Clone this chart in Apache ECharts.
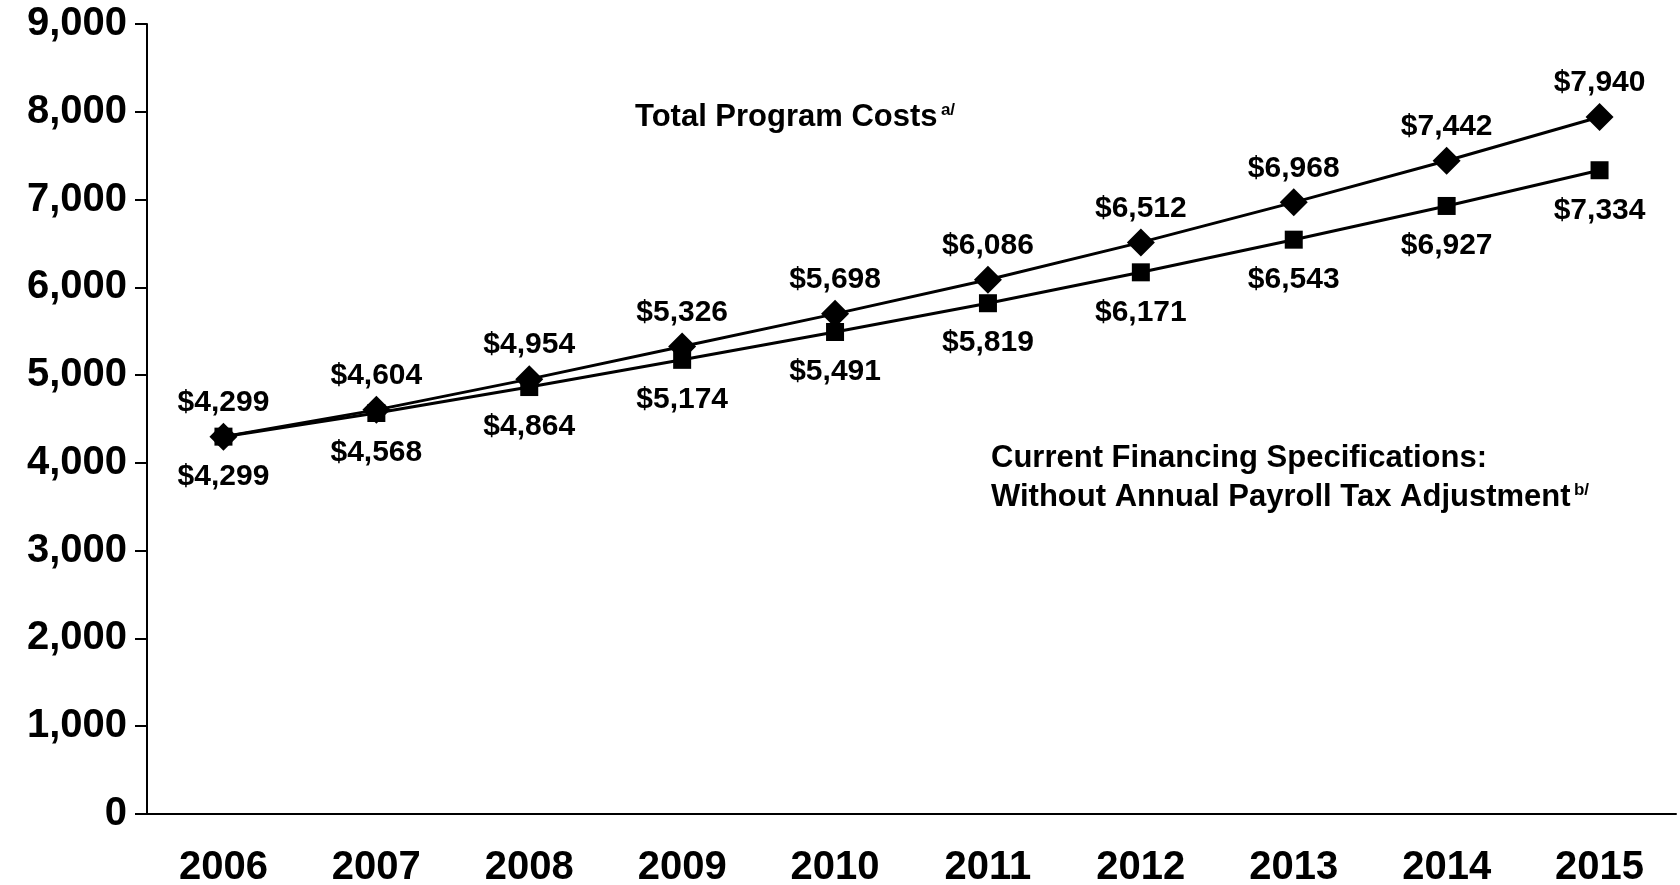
<!DOCTYPE html>
<html lang="en">
<head>
    <meta charset="UTF-8">
    <title>Program Costs</title>
    <script src="https://cdn.jsdelivr.net/npm/echarts@6/dist/echarts.min.js"></script>
    <style>
      html, body { margin: 0; padding: 0; background: #fff; }
      #main { width: 1680px; height: 885px; }
    </style>
</head>
<body>
<div id="main"></div>
<script>
// 数据
var years = ['2006', '2007', '2008', '2009', '2010', '2011', '2012', '2013', '2014', '2015'];
var totalCosts = [4299, 4604, 4954, 5326, 5698, 6086, 6512, 6968, 7442, 7940];
var currentFinancing = [4299, 4568, 4864, 5174, 5491, 5819, 6171, 6543, 6927, 7334];
var yTicks = [0, 1000, 2000, 3000, 4000, 5000, 6000, 7000, 8000, 9000];

var font = '"Liberation Sans", Arial, sans-serif';

function money(v) {
  return '$' + v.toLocaleString('en-US');
}

var myChart = echarts.init(document.getElementById('main'));

var option = {
  backgroundColor: '#fff',
  animation: false,
  grid: { left: 147, right: 4, top: 24, bottom: 71, outerBoundsMode: 'none', containLabel: false },
  xAxis: {
    type: 'category',
    data: years,
    boundaryGap: true,
    axisLine: { lineStyle: { color: '#000', width: 2 } },
    axisTick: { length: 12, lineStyle: { color: '#000', width: 2 } },
    axisLabel: { color: '#000', fontFamily: font, fontWeight: 'bold', fontSize: 40, margin: 34 }
  },
  yAxis: {
    type: 'value',
    min: yTicks[0],
    max: yTicks[yTicks.length - 1],
    interval: 1000,
    axisLine: { show: true, lineStyle: { color: '#000', width: 2 } },
    axisTick: { show: true, length: 12, lineStyle: { color: '#000', width: 2 } },
    splitLine: { show: false },
    axisLabel: {
      color: '#000', fontFamily: font, fontWeight: 'bold', fontSize: 40, margin: 20,
      formatter: function (v) { return v.toLocaleString('en-US'); }
    }
  },
  series: [
    {
      name: 'Current Financing',
      type: 'line',
      data: currentFinancing,
      symbol: 'rect',
      symbolSize: 18,
      lineStyle: { color: '#000', width: 3 },
      itemStyle: { color: '#000' },
      label: {
        show: true, position: 'bottom', distance: 16,
        color: '#000', fontFamily: font, fontWeight: 'bold', fontSize: 30,
        formatter: function (p) { return money(p.value); }
      }
    },
    {
      name: 'Total Program Costs',
      type: 'line',
      data: totalCosts,
      symbol: 'diamond',
      symbolSize: 28,
      lineStyle: { color: '#000', width: 3 },
      itemStyle: { color: '#000' },
      label: {
        show: true, position: 'top', distance: 5,
        color: '#000', fontFamily: font, fontWeight: 'bold', fontSize: 30,
        formatter: function (p) { return money(p.value); }
      }
    }
  ],
  graphic: [
    {
      type: 'text', left: 635, top: 102,
      style: {
        text: '{m|Total Program Costs} {s|a/}',
        rich: {
          m: { fontFamily: font, fontWeight: 'bold', fontSize: 31, fill: '#000' },
          s: { fontFamily: font, fontWeight: 'bold', fontSize: 17, fill: '#000', padding: [0, 0, 14, 0] }
        }
      }
    },
    {
      type: 'text', left: 991, top: 443,
      style: {
        text: '{m|Current Financing Specifications:}\n{m|Without Annual Payroll Tax Adjustment} {s|b/}',
        rich: {
          m: { fontFamily: font, fontWeight: 'bold', fontSize: 31, fill: '#000', lineHeight: 39 },
          s: { fontFamily: font, fontWeight: 'bold', fontSize: 17, fill: '#000', padding: [0, 0, 14, 0] }
        }
      }
    }
  ]
};

myChart.setOption(option);
</script>
</body>
</html>
